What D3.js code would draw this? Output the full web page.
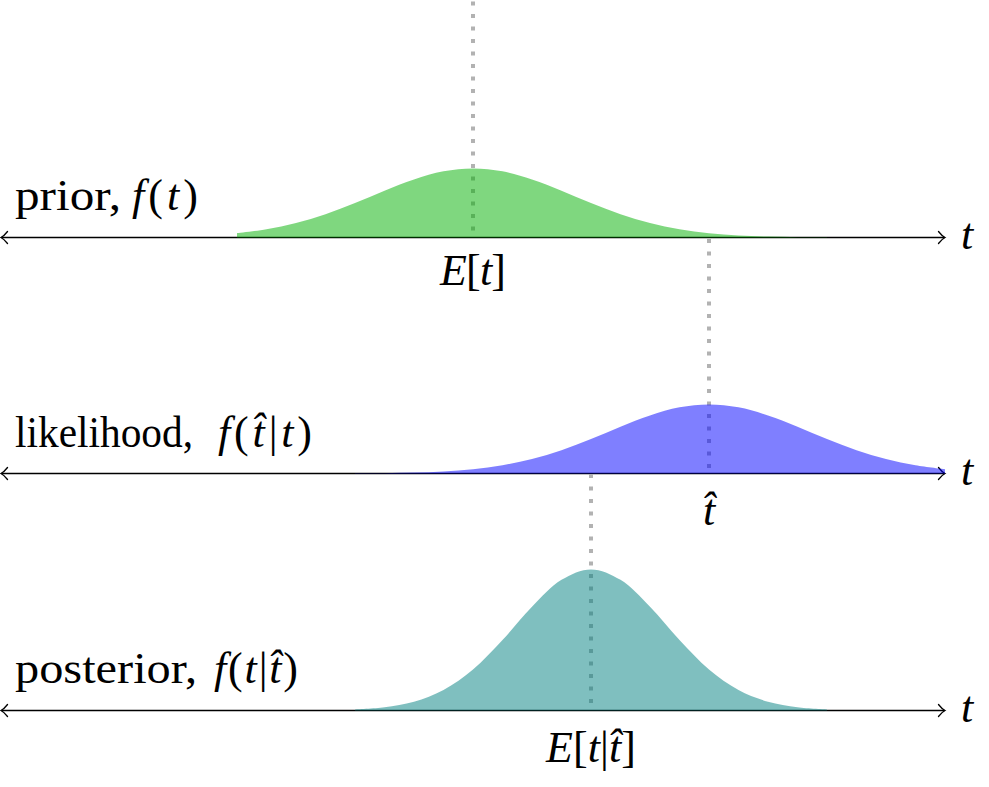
<!DOCTYPE html>
<html>
<head>
<meta charset="utf-8">
<script src="https://cdn.jsdelivr.net/npm/d3@7"></script>
<style>
  html, body { margin: 0; padding: 0; background: #fff; }
  svg { display: block; }
</style>
</head>
<body>
<svg id="chart" width="989" height="787"></svg>
<script>
// ---------------- data ----------------
// t positions (axis runs from -4 to 4) and curve heights (arbitrary density units)
const priorT = [-2,-1.75,-1.5,-1.25,-1,-0.75,-0.5,-0.25,0,0.25,0.5,0.75,1,1.25,1.5,1.75,2,2.25,2.5,2.75,3];
const priorF = [0.0295,0.0565,0.099,0.159,0.235,0.3185,0.395,0.450,0.47,0.450,0.395,0.3185,0.235,0.159,0.099,0.0565,0.0295,0.0142,0.0062,0.0025,0.0009];

const likeT = [-1,-0.75,-0.5,-0.25,0,0.25,0.5,0.75,1,1.25,1.5,1.75,2,2.25,2.5,2.75,3,3.25,3.5,3.75,4];
const likeF = [0.0009,0.0025,0.0062,0.0142,0.0295,0.0565,0.099,0.159,0.235,0.3185,0.395,0.450,0.47,0.450,0.395,0.3185,0.235,0.159,0.099,0.0565,0.0295];

const postT = [-1,-0.75,-0.5,-0.25,0,0.25,0.5,0.75,1,1.25,1.5,1.75,2,2.25,2.5,2.75,3];
const postF = [0.0069,0.0219,0.0597,0.1395,0.279,0.479,0.705,0.889,0.96,0.889,0.705,0.479,0.279,0.1395,0.0597,0.0219,0.0069];

// marker positions on the t axis: E[t], t-hat, E[t|t-hat]
const markerT = [0, 2, 1];

// row labels: word part and math part ([text, italic?] pieces)
const rowWords = ["prior,", "likelihood,", "posterior,"];
const rowMath = [
  [["f", true], ["(", false], ["t", true], [")", false]],
  [["f", true], ["(", false], ["t\u0302", true], ["|", false], ["t", true], [")", false]],
  [["f", true], ["(", false], ["t", true], ["|", false], ["t\u0302", true], [")", false]]
];
const markerLabels = [
  [["E", true], ["[", false], ["t", true], ["]", false]],
  [["t\u0302", true]],
  [["E", true], ["[", false], ["t", true], ["|", false], ["t\u0302", true], ["]", false]]
];
const axisName = "t";

// ---------------- layout ----------------
const FONT = '"Liberation Serif", "Times New Roman", serif';
const FS = 44;
const svg = d3.select("#chart");
const x = d3.scaleLinear().domain([-4, 4]).range([1, 945]);
const baselines = [237.5, 473.5, 710.5];
const yFor = b => d3.scaleLinear().domain([0, 1]).range([b, b - 147]);

const colors = ["rgb(0,176,0)", "rgb(0,0,255)", "rgb(0,128,128)"];
const series = [
  {t: priorT, f: priorF},
  {t: likeT, f: likeF},
  {t: postT, f: postF}
];

// axes with double arrows
const gAx = svg.append("g");
baselines.forEach(b => {
  const l = x(-4), r = x(4);
  gAx.append("line").attr("x1", l + 0.5).attr("x2", r - 0.5)
    .attr("y1", b).attr("y2", b).attr("stroke", "#000").attr("stroke-width", 1.5);
  gAx.append("path")
    .attr("d", `M${l + 6.5},${b - 6} Q${l + 3},${b - 1.5} ${l},${b} Q${l + 3},${b + 1.5} ${l + 6.5},${b + 6}`)
    .attr("fill", "none").attr("stroke", "#000").attr("stroke-width", 1.3).attr("stroke-linecap", "round");
  gAx.append("path")
    .attr("d", `M${r - 6.5},${b - 6} Q${r - 3},${b - 1.5} ${r},${b} Q${r - 3},${b + 1.5} ${r - 6.5},${b + 6}`)
    .attr("fill", "none").attr("stroke", "#000").attr("stroke-width", 1.3).attr("stroke-linecap", "round");
});

// dotted guide lines
const guides = [
  {t: markerT[0], y1: 1.5, y2: 237},
  {t: markerT[1], y1: 239, y2: 470},
  {t: markerT[2], y1: 474, y2: 708}
];
svg.append("g").selectAll("line").data(guides).join("line")
  .attr("x1", d => x(d.t)).attr("x2", d => x(d.t))
  .attr("y1", d => d.y1).attr("y2", d => d.y2)
  .attr("stroke", "rgb(178,178,178)").attr("stroke-width", 4)
  .attr("stroke-dasharray", "4 8.5");

// filled curves (semi-transparent, drawn over axes and guides)
series.forEach((s, i) => {
  const y = yFor(baselines[i]);
  const pts = s.t.map((t, j) => [t, s.f[j]]);
  const area = d3.area()
    .x(d => x(d[0])).y0(baselines[i]).y1(d => y(d[1]))
    .curve(d3.curveCatmullRom);
  svg.append("path").datum(pts).attr("d", area)
    .attr("fill", colors[i]).attr("fill-opacity", 0.5);
});

// labels
function addText(xp, yp, parts, anchor, len, adjust) {
  const t = svg.append("text").attr("x", xp).attr("y", yp).attr("text-anchor", anchor)
    .style("font-family", FONT).style("font-size", FS + "px").attr("fill", "#000");
  parts.forEach(p => {
    t.append("tspan").text(p[0]).style("font-style", p[1] ? "italic" : "normal");
  });
  if (len) t.attr("textLength", len).attr("lengthAdjust", adjust || "spacing");
  return t;
}
const rowY = [209.5, 446.5, 683];
const wordSpan = [[15, 121], [15, 193], [15, 197]];
const mathSpan = [[132, 198], [218, 312], [214, 298]];
rowWords.forEach((w, i) => {
  addText(wordSpan[i][0], rowY[i], [[w, false]], "start", wordSpan[i][1] - wordSpan[i][0], "spacingAndGlyphs");
  addText(mathSpan[i][0], rowY[i], rowMath[i], "start", mathSpan[i][1] - mathSpan[i][0], "spacing");
});

const markerY = [285, 525, 762];
const markerLen = [66, null, 90];
markerLabels.forEach((parts, i) => addText(x(markerT[i]), markerY[i], parts, "middle", markerLen[i], "spacing"));

baselines.forEach(b => addText(961, b + 11.5, [[axisName, true]], "start", null));
</script>
</body>
</html>
